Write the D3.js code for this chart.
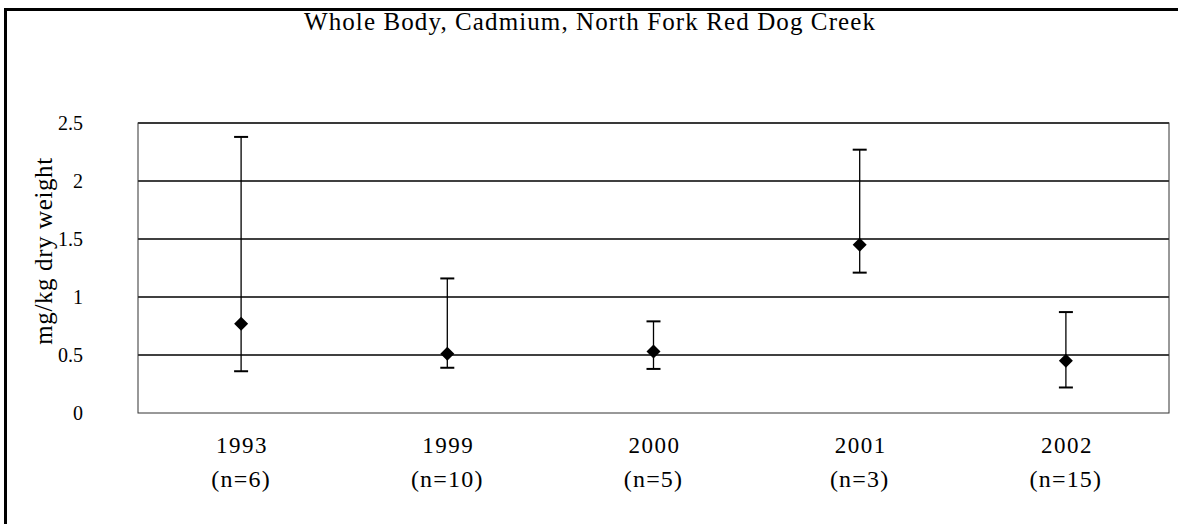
<!DOCTYPE html>
<html><head><meta charset="utf-8">
<script src="https://cdn.jsdelivr.net/npm/d3@7"></script>
<style>body{margin:0;background:#fff}svg{display:block}text{font-family:"Liberation Serif","Times New Roman",serif;fill:#000}</style>
</head><body><svg id="c" width="1178" height="524"></svg>
<script>
const title = "Whole Body, Cadmium, North Fork Red Dog Creek";
const yLabel = "mg/kg dry weight";
const years = ["1993","1999","2000","2001","2002"];
const nLabels = ["(n=6)","(n=10)","(n=5)","(n=3)","(n=15)"];
const means = [0.77, 0.51, 0.53, 1.45, 0.45];
const highs = [2.38, 1.16, 0.79, 2.27, 0.87];
const lows  = [0.36, 0.39, 0.38, 1.21, 0.22];
const yTicks = [0, 0.5, 1, 1.5, 2, 2.5];

const svg = d3.select("#c");
const L = 138, R = 1169, T = 123, B = 413;
const x = d3.scaleBand().domain(years).range([L, R]);
const y = d3.scaleLinear().domain([0, 2.5]).range([B, T]);

// outer frame (left and top)
svg.append("path").attr("d", `M5.5,524 V9.5 H1178`).attr("fill","none").attr("stroke","#000").attr("stroke-width",3);

// gridlines
svg.append("g").selectAll("line").data(yTicks.slice(1)).join("line")
  .attr("x1", L).attr("x2", R).attr("y1", d => y(d)).attr("y2", d => y(d))
  .attr("stroke","#000").attr("stroke-width",1.3);
// plot border
svg.append("rect").attr("x", L).attr("y", T).attr("width", R-L).attr("height", B-T)
  .attr("fill","none").attr("stroke","#333").attr("stroke-width",1);

// y tick labels
svg.append("g").selectAll("text").data(yTicks).join("text")
  .attr("x", L-55).attr("y", d => y(d)).attr("dy","0.35em").attr("text-anchor","end")
  .attr("font-size",20).text(d => d);

// y label
svg.append("text").attr("transform", `translate(52,251) rotate(-90)`)
  .attr("text-anchor","middle").attr("font-size",25).attr("letter-spacing",0.6).text(yLabel);

// title
svg.append("text").attr("x", 590).attr("y", 30).attr("text-anchor","middle")
  .attr("font-size",25).attr("letter-spacing",1.1).text(title);

// category labels
const g = svg.append("g");
g.selectAll("text.yr").data(years).join("text").attr("class","yr")
  .attr("x", d => x(d) + x.bandwidth()/2 + 1).attr("y", 453).attr("text-anchor","middle")
  .attr("font-size",23).attr("letter-spacing",1.5).text(d => d);
g.selectAll("text.n").data(years).join("text").attr("class","n")
  .attr("x", d => x(d) + x.bandwidth()/2).attr("y", 487).attr("text-anchor","middle")
  .attr("font-size",24).attr("letter-spacing",1.2).text((d,i) => nLabels[i]);

// error bars
const cx = i => x(years[i]) + x.bandwidth()/2;
const eb = svg.append("g").attr("stroke","#000");
years.forEach((yr,i) => {
  eb.append("line").attr("x1",cx(i)).attr("x2",cx(i)).attr("y1",y(highs[i])).attr("y2",y(lows[i])).attr("stroke-width",1.3);
  [highs[i], lows[i]].forEach(v => eb.append("line").attr("x1",cx(i)-7).attr("x2",cx(i)+7).attr("y1",y(v)).attr("y2",y(v)).attr("stroke-width",2));
});
// markers
svg.append("g").selectAll("path").data(means).join("path")
  .attr("transform",(d,i) => `translate(${cx(i)},${y(d)})`)
  .attr("d", "M0,-7 L7,0 L0,7 L-7,0 Z").attr("fill","#000");
</script></body></html>
